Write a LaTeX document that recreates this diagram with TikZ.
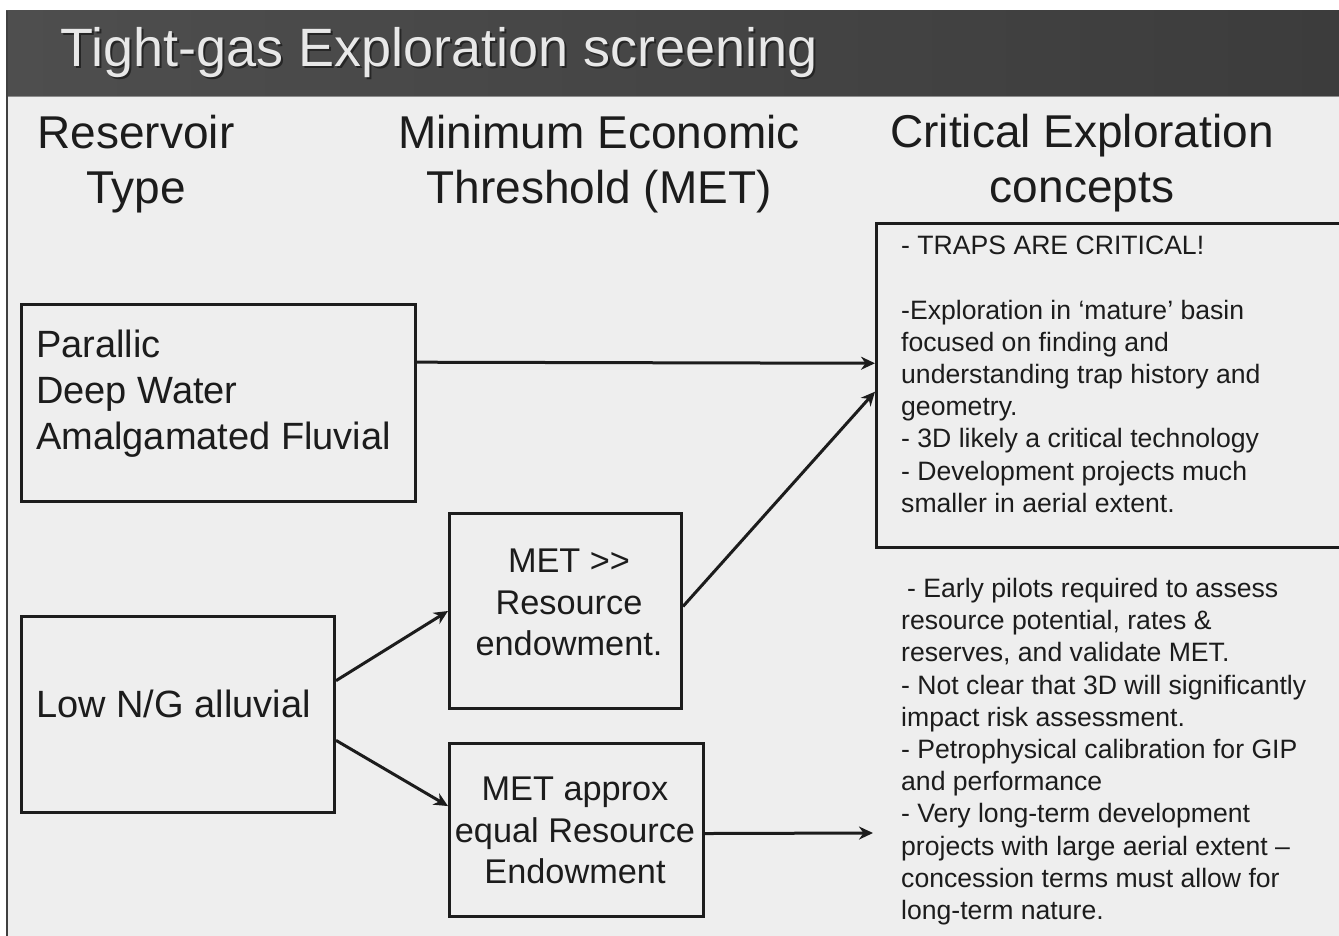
\documentclass[tikz,border=0pt]{standalone}
\usepackage{fontspec}
\setmainfont{Liberation Sans}
\usetikzlibrary{arrows.meta,calc}
\definecolor{bg}{HTML}{EEEEEE}
\definecolor{barL}{HTML}{4E4E4E}
\definecolor{barR}{HTML}{3C3C3C}
\definecolor{ink}{HTML}{1C1C1C}
\definecolor{titlefg}{HTML}{E8E8E8}
\begin{document}
\begin{tikzpicture}[x=1pt,y=-1pt,
  box/.style={draw=ink, line width=3pt, inner sep=0pt, anchor=north west},
  arr/.style={draw=ink, line width=3pt, -{Stealth[length=14pt,width=13pt,inset=4.5pt]}},
  hdr/.style={font=\fontsize{46}{55}\selectfont, text=ink, align=center, anchor=north, inner sep=0pt},
  btxt/.style={font=\fontsize{38}{46}\selectfont, text=ink, align=left, anchor=north west, inner sep=0pt},
  mtxt/.style={font=\fontsize{34.3}{41.5}\selectfont, text=ink, align=center, anchor=north, inner sep=0pt},
  stxt/.style={font=\fontsize{26.6}{32.2}\selectfont, text=ink, align=left, anchor=north west, inner sep=0pt}]
\clip (0,0) rectangle (1339,936);
\useasboundingbox (0,0) rectangle (1339,936);
\fill[white] (0,0) rectangle (1339,936);
\fill[bg] (6,11) rectangle (1339,936);
\shade[left color=barL, right color=barR] (6,11) rectangle (1339,96);
\draw[color=black!45, line width=1.5pt] (6,96.5) -- (1339,96.5);
\draw[color=black!75, line width=2pt] (6.5,11) -- (6.5,936);
% title
\node[font=\fontsize{54}{60}\selectfont, text=black!85, anchor=base west, inner sep=0pt] at (62,69) {Tight-gas Exploration screening};
\node[font=\fontsize{54}{60}\selectfont, text=titlefg, anchor=base west, inner sep=0pt] (title) at (60,67) {Tight-gas Exploration screening};
% headers
\node[hdr] (h1) at (136,115) {Reservoir\\Type};
\node[hdr] (h2) at (599,115) {Minimum Economic\\Threshold (MET)};
\node[hdr] (h3) at (1082,114) {Critical Exploration\\concepts};
% boxes
\node[box, minimum width=394pt, minimum height=197pt] (par) at (20,303) {};
\node[box, minimum width=313pt, minimum height=196pt] (low) at (20,615) {};
\node[box, minimum width=232pt, minimum height=195pt] (metA) at (448,512) {};
\node[box, minimum width=254pt, minimum height=173pt] (metB) at (448,742) {};
\node[box, minimum width=480pt, minimum height=324pt] (crit) at (875,222) {};
\coordinate (c3) at (873,833);
% box texts
\node[btxt] (partxt) at (36,330) {Parallic\\Deep Water\\Amalgamated Fluvial};
\node[btxt, anchor=base west] (lowtxt) at (36,717) {Low N/G alluvial};
\node[mtxt] (metAtxt) at (569,549) {MET >{}>\\Resource\\endowment.};
\node[mtxt] (metBtxt) at (575,777) {MET approx\\equal Resource\\Endowment};
\node[stxt] (crit1) at (901,236) {- TRAPS ARE CRITICAL!\\[32.2pt]-Exploration in ‘mature’ basin\\focused on finding and\\understanding trap history and\\geometry.\\- 3D likely a critical technology\\- Development projects much\\smaller in aerial extent.};
\node[stxt] (crit2) at (901,578) {\hspace{6pt}- Early pilots required to assess\\resource potential, rates \&\\reserves, and validate MET.\\- Not clear that 3D will significantly\\impact risk assessment.\\- Petrophysical calibration for GIP\\and performance\\- Very long-term development\\projects with large aerial extent –\\concession terms must allow for\\long-term nature.};
% connectors
\draw[arr] ($(par.north east)!0.296!(par.south east)$) -- ($(crit.north west)!0.432!(crit.south west)$);
\draw[arr] ($(metA.north east)!0.477!(metA.south east)$) -- ($(crit.north west)!0.519!(crit.south west)$);
\draw[arr] ($(low.north east)!0.33!(low.south east)$) -- ($(metA.north west)!0.5!(metA.south west)$);
\draw[arr] ($(low.north east)!0.63!(low.south east)$) -- ($(metB.north west)!0.364!(metB.south west)$);
\draw[arr] ($(metB.north east)!0.52!(metB.south east)$) -- (c3);
\end{tikzpicture}
\end{document}
